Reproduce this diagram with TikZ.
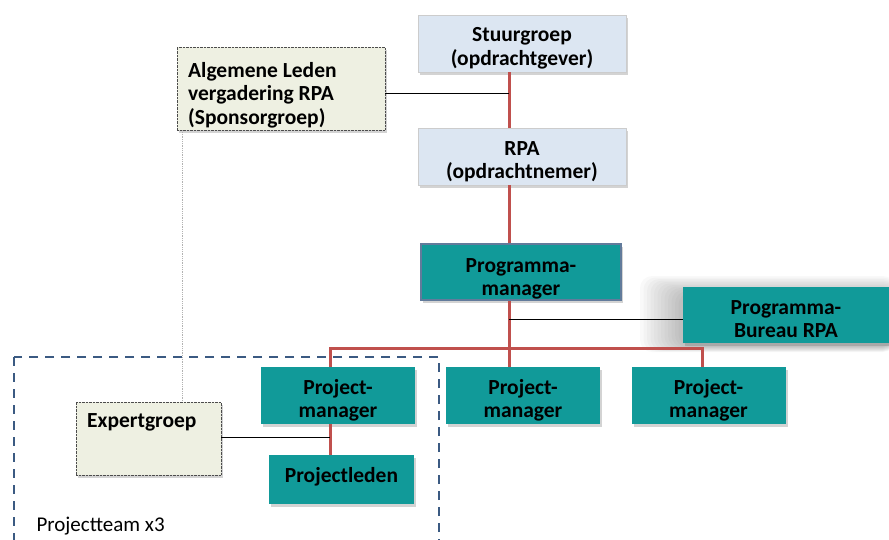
\documentclass[tikz,border=0pt]{standalone}
\usepackage{fontspec}
\setmainfont{Carlito}
\usetikzlibrary{shadows}
\definecolor{tealbox}{HTML}{119A99}
\definecolor{lightblue}{HTML}{DCE6F2}
\definecolor{lightgreen}{HTML}{EEF0E2}
\definecolor{redline}{HTML}{C0504D}
\definecolor{dashblue}{HTML}{3B5A82}
\begin{document}
\begin{tikzpicture}[x=1pt,y=-1pt,
  txt/.style={inner sep=0pt, font=\bfseries\fontsize{21.5}{23.5}\selectfont, align=center, yshift=-5pt},
  box/.style={rectangle, inner sep=0pt,
    drop shadow={opacity=0.35, shadow xshift=2pt, shadow yshift=-3pt}},
  bluebox/.style={box, fill=lightblue, draw=gray!40, minimum width=208pt, minimum height=57pt},
  tealnode/.style={box, fill=tealbox, minimum width=154pt, minimum height=57pt},
  greenbox/.style={box, fill=lightgreen, draw=black!70, densely dotted},
  redc/.style={draw=redline, line width=3pt},
  thinc/.style={draw=black, line width=0.9pt}]
\useasboundingbox (0,0) rectangle (889,540);
\clip (0,0) rectangle (889,540);

% dashed project team frame
\draw[dashblue, line width=2.2pt, dash pattern=on 9pt off 7pt] (14,357) rectangle (439,560);
\node[anchor=west, font=\fontsize{21}{24}\selectfont] (ptl) at (33,526) {Projectteam x3};

% soft shadow behind Programma-Bureau
\foreach \k in {0,...,11}{
  \fill[black, opacity=0.022, rounded corners=12pt] (640+\k*3.5,276+\k*1.5) rectangle (895,352-\k*0.5);
}

\node[bluebox, label={[txt]center:Stuurgroep\\(opdrachtgever)}] (stuur) at (522,43.5) {};
\node[bluebox, label={[txt]center:RPA\\(opdrachtnemer)}] (rpa) at (522,156.5) {};
\node[greenbox, minimum width=208pt, minimum height=83pt] (alg) at (281,88.5) {};
\node[anchor=west, align=left, font=\bfseries\fontsize{21.5}{23.5}\selectfont, inner sep=0pt] (algt) at (188,95) {Algemene Leden\\vergadering RPA\\(Sponsorgroep)};
\node[tealnode, minimum width=200pt, minimum height=56pt, draw=dashblue!80, line width=1.5pt,
  label={[txt, yshift=-2pt]center:Programma-\\manager}] (pgm) at (521,272) {};
\node[tealnode, minimum width=206pt, minimum height=56pt, drop shadow={opacity=0},
  label={[txt, yshift=1pt]center:Programma-\\Bureau RPA}] (bur) at (786,315) {};
\node[tealnode, label={[txt]center:Project-\\manager}] (pm1) at (338,395.5) {};
\node[tealnode, label={[txt]center:Project-\\manager}] (pm2) at (523,395.5) {};
\node[tealnode, label={[txt]center:Project-\\manager}] (pm3) at (708.5,395.5) {};
\node[tealnode, minimum width=145pt, minimum height=49pt,
  label={[txt, yshift=8pt]center:Projectleden}] (led) at (341.5,479.5) {};
\node[greenbox, minimum width=145pt, minimum height=73pt] (exp) at (148.5,438.5) {};
\node[anchor=west, font=\bfseries\fontsize{21.5}{23.5}\selectfont, inner sep=0pt] (expt) at (87,422) {Expertgroep};

% connectors
\coordinate (t1) at (509,93);
\coordinate (t2) at (509,319);
\coordinate (bus) at (509,348);
\coordinate (busL) at (330,348);
\coordinate (busR) at (702,348);
\coordinate (e1) at (330,437);

\draw[redc] (stuur.south -| t1) -- (rpa.north -| t1);
\draw[redc] (rpa.south -| t1) -- (pgm.north -| t1);
\draw[redc] (pgm.south -| t1) -- (bus);
\draw[redc] (pm2.north -| bus) -- (bus) -- (busL) -- (pm1.north -| busL);
\draw[redc] (bus) -- (busR) -- (pm3.north -| busR);
\draw[redc] (pm1.south -| busL) -- (led.north -| busL);
\draw[thinc] (alg.east |- t1) -- (t1);
\draw[thinc] (t2) -- (bur.west |- t2);
\draw[thinc] (exp.east |- e1) -- (e1);
\draw[gray!60, densely dotted, line width=0.8pt] (alg.south -| 182,0) -- (exp.north -| 182,0);
\end{tikzpicture}
\end{document}
